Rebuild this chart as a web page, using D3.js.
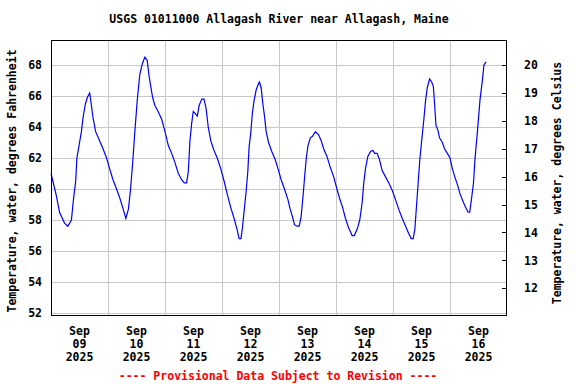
<!doctype html>
<html lang="en">
<head>
<meta charset="utf-8">
<title>USGS 01011000 Allagash River near Allagash, Maine</title>
<script src="https://cdn.jsdelivr.net/npm/d3@7"></script>
<style>
  body { margin: 0; background: #fff; }
  text { font-family: "DejaVu Sans Mono", monospace; font-weight: bold; font-size: 11.5px; fill: #000; }
  .grid line { stroke: #c8c8c8; stroke-width: 1px; shape-rendering: crispEdges; }
  .frame { fill: none; stroke: #000; stroke-width: 1px; shape-rendering: crispEdges; }
  .series { fill: none; stroke: #0000ff; stroke-width: 1.2px; }
  .prov { fill: #ff0000; }
</style>
</head>
<body>
<svg width="576" height="384"></svg>
<script>
// hours after Sep 09 2025 00:00 and water temperature (deg F)
var hours = [0, 2.2, 3.6, 5.7, 7.1, 8.6, 9.5, 10.4, 10.9, 11.8, 12.8, 13.5, 14.5, 15.3, 16.3,
  17.0, 17.7, 18.8, 20.5, 21.9, 23.4, 24.7, 26.1, 27.6, 29.0, 30.4, 31.5, 32.6, 33.5, 34.3,
  35.3, 36.3, 37.4, 38.5, 39.5, 40.5, 41.2, 41.9, 42.8, 43.7, 45.1, 46.6, 48.0, 49.4, 50.8,
  52.2, 53.6, 55.0, 56.1, 57.1, 57.8, 58.5, 59.2, 59.9, 60.6, 61.6, 62.4, 63.5, 64.4, 65.3,
  66.2, 67.3, 68.6, 70.0, 71.5, 72.9, 74.3, 75.7, 77.1, 78.5, 79.2, 80.0, 80.6, 81.4, 82.2,
  82.9, 83.4, 84.1, 84.8, 85.5, 86.4, 87.4, 87.8, 88.5, 89.2, 89.9, 90.6, 91.6, 93.0, 94.4,
  95.8, 96.9, 98.3, 99.8, 100.7, 101.7, 102.5, 103.6, 104.5, 105.3, 106.1, 106.8, 107.5,
  108.2, 109.2, 110.1, 111.3, 112.7, 113.8, 114.8, 116.2, 117.6, 119.0, 120.4, 121.5, 122.8,
  124.0, 125.3, 126.8, 127.7, 128.9, 130.0, 131.0, 131.7, 132.4, 133.4, 134.5, 135.5, 136.3,
  137.3, 138.3, 139.4, 140.8, 142.2, 143.7, 145.1, 146.4, 147.9, 149.3, 150.7, 151.7, 152.5,
  153.2, 153.9, 154.6, 155.3, 156.0, 157.0, 157.7, 158.4, 159.4, 160.3, 161.0, 161.5, 162.1,
  162.9, 163.6, 164.8, 165.7, 166.9, 168.0, 169.0, 170.0, 171.1, 172.2, 173.5, 174.6, 175.6,
  176.3, 177.0, 177.9, 178.5, 179.6, 180.6, 181.7, 182.3, 183.2];
var tempF = [61.0, 59.6, 58.5, 57.8, 57.6, 58.0, 59.4, 60.5, 62.0, 62.8, 63.7, 64.6, 65.5, 65.9, 66.2,
  65.4, 64.6, 63.7, 63.1, 62.6, 62.0, 61.3, 60.6, 60.0, 59.4, 58.7, 58.1, 58.7, 60.0, 61.5,
  63.7, 65.7, 67.4, 68.1, 68.5, 68.3, 67.4, 66.7, 65.9, 65.4, 65.0, 64.5, 63.7, 62.8, 62.3,
  61.7, 61.0, 60.6, 60.4, 60.4, 61.1, 63.1, 64.2, 65.0, 64.9, 64.7, 65.4, 65.8, 65.8, 65.2,
  64.0, 63.1, 62.5, 62.0, 61.3, 60.5, 59.6, 58.8, 58.1, 57.3, 56.8, 56.8, 57.5, 58.7, 59.9,
  61.2, 62.7, 63.6, 64.9, 65.7, 66.4, 66.8, 66.9, 66.5, 65.5, 64.7, 63.7, 63.0, 62.4, 61.9,
  61.2, 60.6, 60.0, 59.3, 58.7, 58.2, 57.7, 57.6, 57.6, 58.2, 59.5, 60.8, 62.0,
  62.8, 63.3, 63.4, 63.7, 63.5, 63.1, 62.6, 62.1, 61.4, 60.8, 60.0, 59.4, 58.8,
  58.1, 57.5, 57.0, 57.0, 57.4, 58.0, 59.1, 60.4, 61.3, 62.1, 62.4, 62.5, 62.3,
  62.3, 61.9, 61.2, 60.8, 60.4, 59.9, 59.3, 58.7, 58.1, 57.6, 57.1, 56.8, 56.8,
  57.4, 58.9, 60.4, 61.9, 63.0, 64.5, 65.7, 66.5, 67.1, 66.9, 66.6, 65.5, 64.1,
  63.8, 63.3, 63.0, 62.6, 62.3, 62.0, 61.3, 60.8, 60.3, 59.7, 59.2, 58.8, 58.5,
  58.5, 59.3, 60.4, 61.9, 63.8, 65.7, 67.1, 68.0, 68.2];
var dayLabels = ["09", "10", "11", "12", "13", "14", "15", "16"];
var fTicks = [52, 54, 56, 58, 60, 62, 64, 66, 68];
var cTicks = [12, 13, 14, 15, 16, 17, 18, 19, 20];

var svg = d3.select("svg");
var pLeft = 51, pRight = 507, pTop = 40, pBottom = 316;
var start = new Date(2025, 8, 9), end = new Date(2025, 8, 17);

var x = d3.scaleTime().domain([start, end]).range([pLeft, pRight]);
var y = d3.scaleLinear().domain([51.81, 69.61]).range([pBottom, pTop]);
var yc = d3.scaleLinear().domain(y.domain().map(f => (f - 32) / 1.8)).range([pBottom, pTop]);

var data = hours.map((h, i) => ({ t: d3.timeMinute.offset(start, Math.round(h * 60)), v: tempF[i] }));
var midnights = d3.timeDay.range(d3.timeDay.offset(start, 1), end);
var noons = dayLabels.map((d, i) => d3.timeHour.offset(start, 24 * i + 12));

// grid
var grid = svg.append("g").attr("class", "grid");
grid.selectAll("line.h").data(fTicks).enter().append("line")
  .attr("x1", pLeft).attr("x2", pRight)
  .attr("y1", d => Math.round(y(d)) + 0.5).attr("y2", d => Math.round(y(d)) + 0.5);
grid.selectAll("line.v").data(midnights).enter().append("line")
  .attr("y1", pTop).attr("y2", pBottom)
  .attr("x1", d => Math.round(x(d)) + 0.5).attr("x2", d => Math.round(x(d)) + 0.5);

// left axis (Fahrenheit), labels only
var ax = d3.axisLeft(y).tickValues(fTicks).tickSize(0).tickPadding(9);
svg.append("g").attr("transform", "translate(" + pLeft + ",0)").call(ax)
  .call(g => g.select(".domain").remove());

// right axis (Celsius), inward ticks
var axc = d3.axisRight(yc).tickValues(cTicks).tickSize(-5).tickPadding(17);
svg.append("g").attr("transform", "translate(" + pRight + ",0)").call(axc)
  .call(g => g.select(".domain").remove())
  .call(g => g.selectAll("line").attr("stroke", "#000").attr("shape-rendering", "crispEdges"));

// date labels
var dl = svg.append("g").selectAll("text").data(noons).enter().append("text")
  .attr("x", d => x(d)).attr("text-anchor", "middle");
dl.append("tspan").attr("x", d => x(d)).attr("y", 335).text("Sep");
dl.append("tspan").attr("x", d => x(d)).attr("y", 348).text((d, i) => dayLabels[i]);
dl.append("tspan").attr("x", d => x(d)).attr("y", 361).text("2025");

// series
svg.append("path").datum(data).attr("class", "series")
  .attr("d", d3.line().x(d => x(d.t)).y(d => y(d.v)));

// frame
svg.append("rect").attr("class", "frame")
  .attr("x", pLeft + 0.5).attr("y", pTop + 0.5)
  .attr("width", pRight - pLeft - 1).attr("height", pBottom - pTop - 1);

// titles
svg.append("text").attr("x", 279).attr("y", 23).attr("text-anchor", "middle")
  .text("USGS 01011000 Allagash River near Allagash, Maine");
svg.append("text").attr("transform", "translate(16,181) rotate(-90)").attr("text-anchor", "middle")
  .text("Temperature, water, degrees Fahrenheit");
svg.append("text").attr("transform", "translate(561,183) rotate(-90)").attr("text-anchor", "middle")
  .text("Temperature, water, degrees Celsius");
svg.append("text").attr("class", "prov").attr("x", 278).attr("y", 380).attr("text-anchor", "middle")
  .text("---- Provisional Data Subject to Revision ----");
</script>
</body>
</html>
